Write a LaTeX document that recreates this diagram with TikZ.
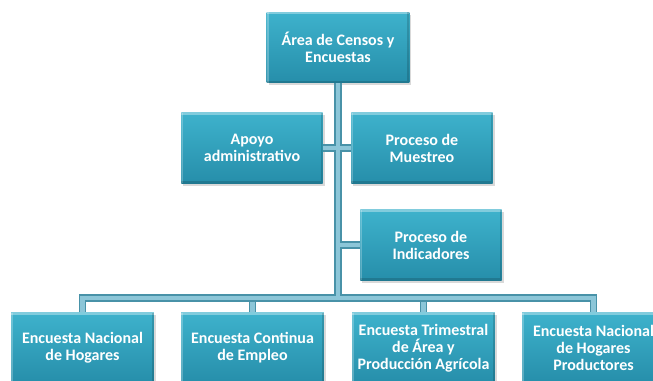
\documentclass[tikz,border=0pt]{standalone}
\usepackage{fontspec}
\setmainfont{Carlito}
\usetikzlibrary{positioning}
\usetikzlibrary{shadows}

\definecolor{boxtop}{RGB}{62,178,204}
\definecolor{boxbot}{RGB}{38,142,170}
\definecolor{linkfill}{RGB}{140,198,216}
\definecolor{linkedge}{RGB}{72,146,168}

\begin{document}
\begin{tikzpicture}[
			x=0.75pt, y=-0.75pt,
			unit/.style={rectangle, top color=boxtop, bottom color=boxbot,
				minimum width=106pt, minimum height=53pt, align=center,
				text=white, font=\bfseries\fontsize{12}{12.8}\selectfont,
				drop shadow={opacity=0.3, shadow xshift=1.5pt, shadow yshift=-2pt},
				path picture={
					\draw[white, opacity=0.35, line width=3pt]
					(path picture bounding box.north west) -- (path picture bounding box.north east);
					\draw[white, opacity=0.25, line width=3pt]
					(path picture bounding box.north west) -- (path picture bounding box.south west);
					\draw[black, opacity=0.15, line width=3pt]
					(path picture bounding box.south west) -- (path picture bounding box.south east)
					-- (path picture bounding box.north east);
				}},
			linkout/.style={draw=linkedge, line width=5.4pt},
			linkin/.style={draw=linkfill, line width=3.6pt}
			]
			\clip (0,0) rectangle (653,381);
			\useasboundingbox (0,0) rectangle (653,381);
			
			% Head
			\node[unit, minimum width=107pt] (root) at (338,47.5) {Área de Censos y\\Encuestas};
			
			% Staff units
			\node[unit] (apoyo) at (252,148) {Apoyo\\administrativo};
			\node[unit] (muestreo) at (422,148) {Proceso de\\Muestreo};
			\node[unit] (indicadores) at (431,245) {Proceso de\\Indicadores};
			
			% Surveys
			\node[unit, minimum width=107pt] (enh) at (82.5,348) {Encuesta Nacional\\de Hogares};
			\node[unit, minimum width=107pt] (ece) at (252.5,348) {Encuesta Continua\\de Empleo};
			\node[unit, minimum width=107pt] (etapa) at (423.5,348) {Encuesta Trimestral\\de Área y\\Producción Agrícola};
			\node[unit, minimum width=107pt] (enhp) at (593.5,348) {Encuesta Nacional\\de Hogares\\Productores};
			
			% Bus
			\coordinate (trunk) at (338,298);
			\coordinate (busl) at (82.5,298);
			\coordinate (busr) at (593.5,298);
			
			% Connections
			\foreach \s in {linkout,linkin}{
				\draw[\s] (apoyo.east) -- (muestreo.west);
				\draw[\s] (trunk |- indicadores.west) -- (indicadores.west);
				\draw[\s] (ece.north) -- (ece.north |- busl);
				\draw[\s] (etapa.north) -- (etapa.north |- busl);
				\draw[\s] (root.south) -- (trunk);
			}
			\foreach \s in {linkout,linkin}
			\draw[\s, line join=miter] (enh.north) -- (busl) -- (busr) -- (enhp.north);
			\draw[linkin] (338,292) -- (338,297);
		\end{tikzpicture}
\end{document}
